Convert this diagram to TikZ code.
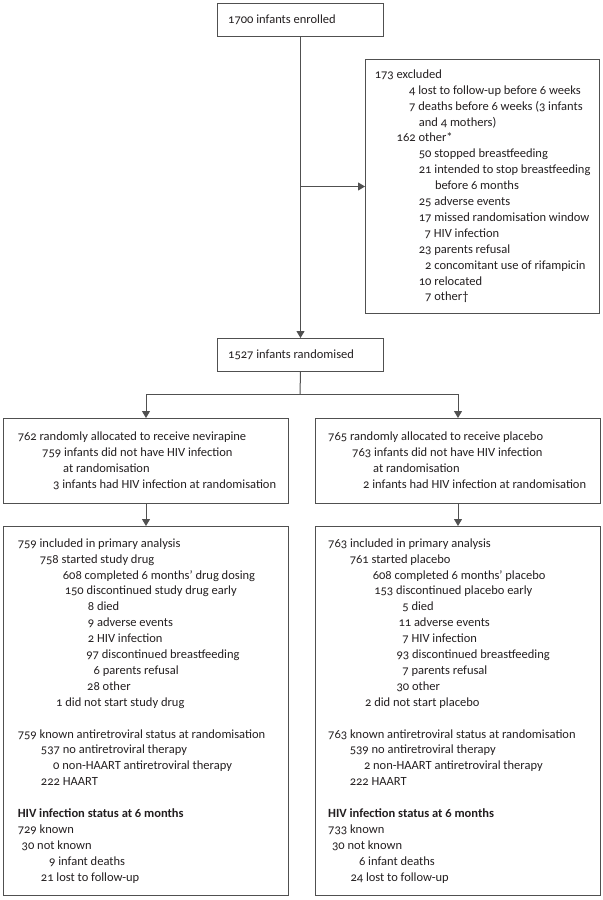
\documentclass[tikz,border=0pt]{standalone}
\usepackage{fontspec}
\setmainfont{Carlito}[Numbers=OldStyle]
\usetikzlibrary{arrows.meta}
\definecolor{linec}{HTML}{505050}
\definecolor{txtc}{HTML}{231F20}
\newcommand\mln[2]{\hspace*{#1bp}\strut#2}
\begin{document}
\begin{tikzpicture}[x=1bp,y=-1bp,
  box/.style={draw=linec, line width=1bp, anchor=north west, inner sep=0pt},
  txt/.style={anchor=west, inner sep=0pt, align=left, text=txtc, font=\fontsize{12.5bp}{15.9bp}\selectfont},
  arr/.style={draw=linec, line width=1bp, -{Triangle[length=7bp,width=8bp]}},
  conn/.style={draw=linec, line width=1bp}]
\useasboundingbox[fill=white] (0,0) rectangle (603,900);

% boxes
\node[box, minimum width=166bp, minimum height=33bp] (enrol) at (217,3) {};
\node[box, minimum width=234bp, minimum height=254bp] (excl) at (365,59) {};
\node[box, minimum width=166bp, minimum height=33bp] (rand) at (217,338) {};
\node[box, minimum width=285bp, minimum height=85bp] (allocL) at (3,418) {};
\node[box, minimum width=285bp, minimum height=85bp] (allocR) at (315,418) {};
\node[box, minimum width=285bp, minimum height=369bp] (analL) at (3,526) {};
\node[box, minimum width=285bp, minimum height=369bp] (analR) at (315,526) {};

% texts
\node[txt] (tenrol) at (enrol.west) {\mln{11}{1700 infants enrolled}};
\node[txt] (trand) at (rand.west) {\mln{11}{1527 infants randomised}};
\node[txt] (texcl) at (excl.west) {%
\mln{9.6}{173 excluded}\\%
\mln{44}{4 lost to follow-up before 6 weeks}\\%
\mln{44}{7 deaths before 6 weeks (3 infants}\\%
\mln{53.7}{and 4 mothers)}\\%
\mln{31.5}{162 other*}\\%
\mln{53.7}{50 stopped breastfeeding}\\%
\mln{53.7}{21 intended to stop breastfeeding}\\%
\mln{69.8}{before 6 months}\\%
\mln{53.7}{25 adverse events}\\%
\mln{53.7}{17 missed randomisation window}\\%
\mln{59.5}{7 HIV infection}\\%
\mln{53.7}{23 parents refusal}\\%
\mln{60}{2 concomitant use of rifampicin}\\%
\mln{53.7}{10 relocated}\\%
\mln{60}{7 other†}};

\node[txt] (tallocL) at (allocL.west) {%
\mln{14.6}{762 randomly allocated to receive nevirapine}\\%
\mln{39}{759 infants did not have HIV infection}\\%
\mln{60}{at randomisation}\\%
\mln{50}{3 infants had HIV infection at randomisation}};
\node[txt] (tallocR) at (allocR.west) {%
\mln{13}{765 randomly allocated to receive placebo}\\%
\mln{37}{763 infants did not have HIV infection}\\%
\mln{58}{at randomisation}\\%
\mln{48}{2 infants had HIV infection at randomisation}};

\node[txt] (tanalL) at (analL.west) {%
\mln{14.6}{759 included in primary analysis}\\%
\mln{36.6}{758 started study drug}\\%
\mln{59.7}{608 completed 6 months’ drug dosing}\\%
\mln{61.6}{150 discontinued study drug early}\\%
\mln{84.7}{8 died}\\%
\mln{84.7}{9 adverse events}\\%
\mln{84.7}{2 HIV infection}\\%
\mln{83.2}{97 discontinued breastfeeding}\\%
\mln{90.5}{6 parents refusal}\\%
\mln{84}{28 other}\\%
\mln{53}{1 did not start study drug}\\%
\mln{0}{}\\%
\mln{14.6}{759 known antiretroviral status at randomisation}\\%
\mln{37.8}{537 no antiretroviral therapy}\\%
\mln{50}{0 non-HAART antiretroviral therapy}\\%
\mln{37.8}{222 HAART}\\%
\mln{0}{}\\%
\mln{14.6}{\textbf{HIV infection status at 6 months}}\\%
\mln{14.6}{729 known}\\%
\mln{18.5}{30 not known}\\%
\mln{46}{9 infant deaths}\\%
\mln{37.8}{21 lost to follow-up}};

\node[txt] (tanalR) at (analR.west) {%
\mln{13}{763 included in primary analysis}\\%
\mln{34.6}{761 started placebo}\\%
\mln{57.6}{608 completed 6 months’ placebo}\\%
\mln{59.1}{153 discontinued placebo early}\\%
\mln{87.2}{5 died}\\%
\mln{83.3}{11 adverse events}\\%
\mln{87.2}{7 HIV infection}\\%
\mln{81.4}{93 discontinued breastfeeding}\\%
\mln{87.2}{7 parents refusal}\\%
\mln{81.4}{30 other}\\%
\mln{49.9}{2 did not start placebo}\\%
\mln{0}{}\\%
\mln{13}{763 known antiretroviral status at randomisation}\\%
\mln{34.6}{539 no antiretroviral therapy}\\%
\mln{48.8}{2 non-HAART antiretroviral therapy}\\%
\mln{34.6}{222 HAART}\\%
\mln{0}{}\\%
\mln{13}{\textbf{HIV infection status at 6 months}}\\%
\mln{13}{733 known}\\%
\mln{16.9}{30 not known}\\%
\mln{43.8}{6 infant deaths}\\%
\mln{35.3}{24 lost to follow-up}};

% connectors
\draw[arr] (enrol.south) -- (rand.north);
\draw[arr] (enrol.south |- excl.west) -- (excl.west);
\coordinate (split) at (300,394);
\draw[conn] (rand.south) -- (split);
\draw[arr] (split) -| (allocL.north);
\draw[arr] (split) -| (allocR.north);
\draw[arr] (allocL.south) -- (analL.north);
\draw[arr] (allocR.south) -- (analR.north);
\end{tikzpicture}
\end{document}
